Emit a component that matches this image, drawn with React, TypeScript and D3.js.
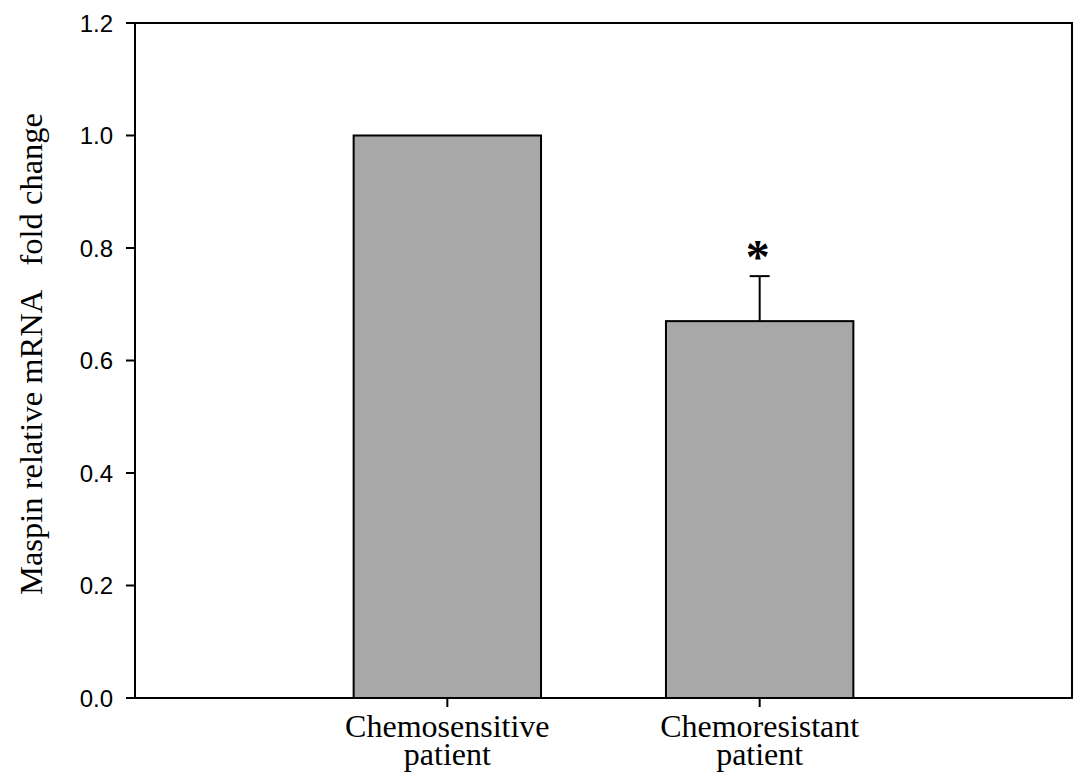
import React from "react";
import * as d3 from "d3";

const categories = ["Chemosensitive\npatient", "Chemoresistant\npatient"];
const values = [1.0, 0.67];
const errors = [0, 0.08];
const significance = ["", "*"];
const yTicks = [0, 0.2, 0.4, 0.6, 0.8, 1.0, 1.2];
const yTitle = "Maspin relative mRNA\u00a0\u00a0\u00a0fold change";

export default function App() {
  const W = 1087, H = 783;
  const left = 135, right = 1072, top = 23, bottom = 698;
  const x = d3.scaleBand<string>().domain(categories).range([left, right]).paddingInner(0.4).paddingOuter(0.7);
  const y = d3.scaleLinear().domain([0, 1.2]).range([bottom, top]);
  const bw = x.bandwidth();
  return (
    <svg width={W} height={H} style={{ position: "absolute", left: 0, top: 0, background: "#fff" }}>
      {categories.map((c, i) => {
        const x0 = x(c)!;
        const cx = x0 + bw / 2;
        const yv = y(values[i]);
        const ye = y(values[i] + errors[i]);
        return (
          <g key={c}>
            {errors[i] > 0 && (
              <g stroke="#000" strokeWidth={2}>
                <line x1={cx} x2={cx} y1={yv} y2={ye} />
                <line x1={cx - 10} x2={cx + 10} y1={ye} y2={ye} />
              </g>
            )}
            <rect x={x0} y={yv} width={bw} height={bottom - yv} fill="#a8a8a8" stroke="#000" strokeWidth={2} />
            {significance[i] && (
              <text x={cx - 2} y={ye - 3} textAnchor="middle" fontFamily="Liberation Serif, serif" fontWeight="bold" fontSize={48}>
                {significance[i]}
              </text>
            )}
            <line x1={cx} x2={cx} y1={bottom} y2={bottom + 9} stroke="#000" strokeWidth={2} />
            <text x={cx} y={737} textAnchor="middle" fontFamily="Liberation Serif, serif" fontSize={32} fill="#000">
              {c.split("\n").map((t, k) => (
                <tspan key={k} x={cx} dy={k === 0 ? 0 : 28}>{t}</tspan>
              ))}
            </text>
          </g>
        );
      })}
      <rect x={left} y={top} width={right - left} height={bottom - top} fill="none" stroke="#000" strokeWidth={2} />
      {yTicks.map((t) => (
        <g key={t}>
          <line x1={left - 9} x2={left} y1={y(t)} y2={y(t)} stroke="#000" strokeWidth={2} />
          <text x={113} y={y(t)} dy="0.36em" textAnchor="end" fontFamily="Liberation Sans, Arial, sans-serif" fontSize={24} fill="#000">
            {t.toFixed(1)}
          </text>
        </g>
      ))}
      <text transform={`translate(42, 354) rotate(-90)`} textAnchor="middle" fontFamily="Liberation Serif, serif" fontSize={32.5} fill="#000">
        {yTitle}
      </text>
    </svg>
  );
}
